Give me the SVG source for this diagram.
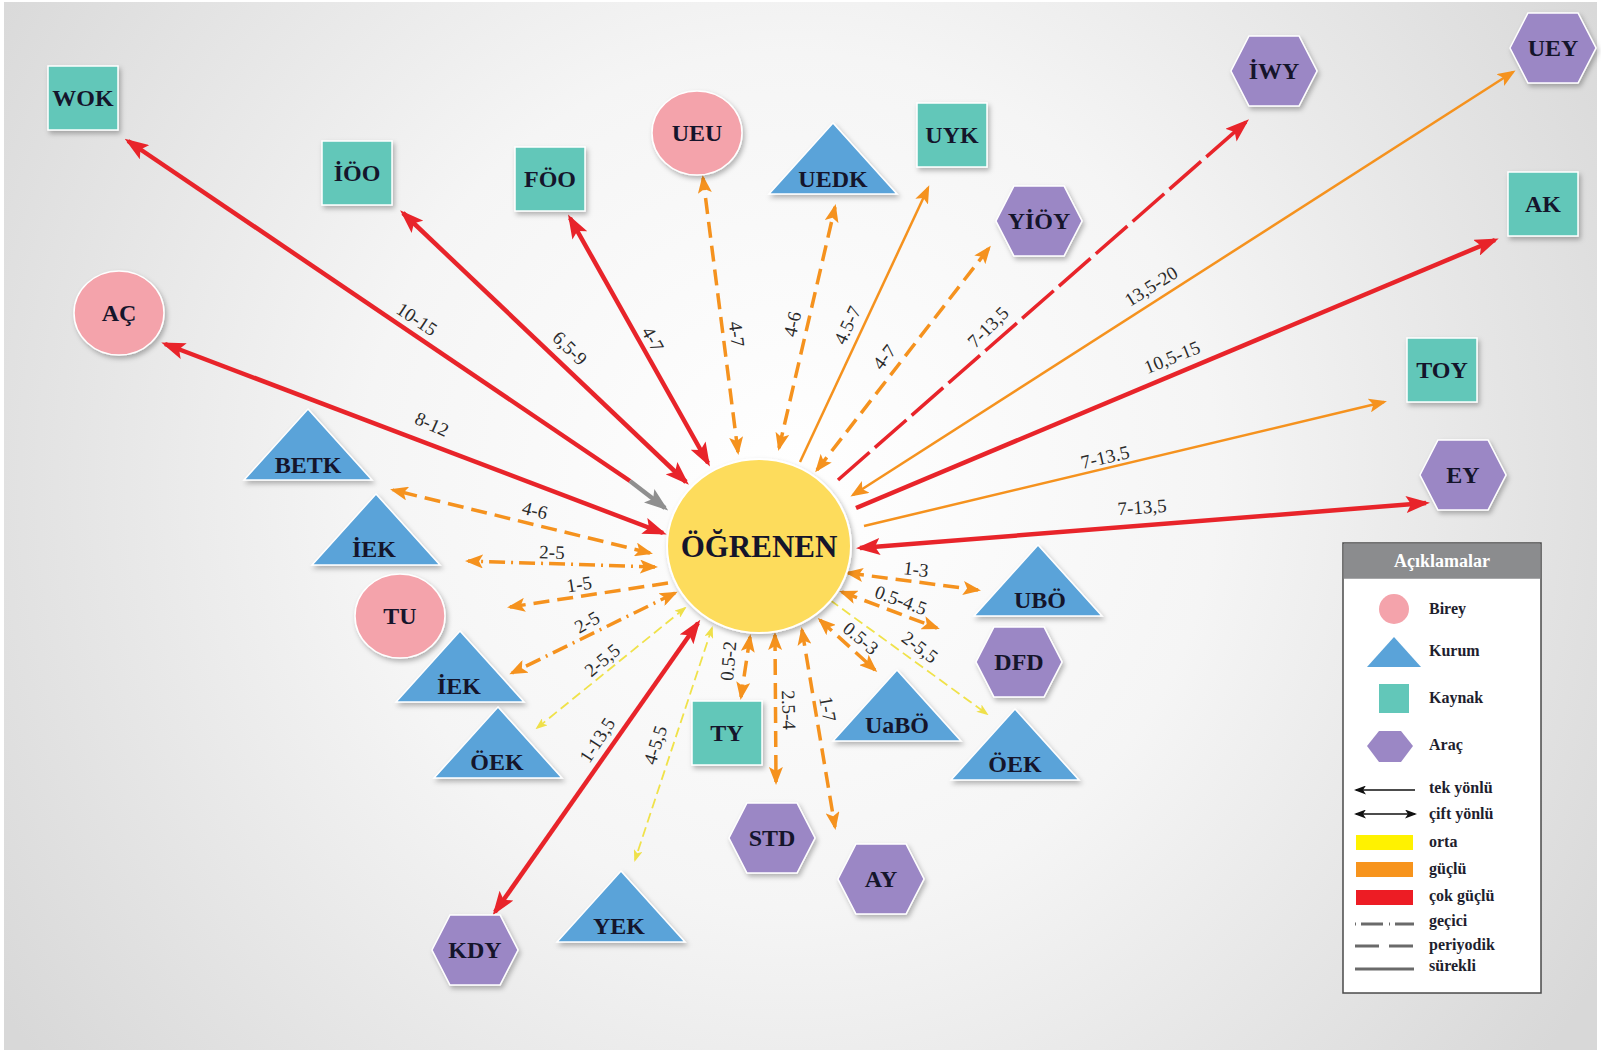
<svg xmlns="http://www.w3.org/2000/svg" width="1601" height="1057" viewBox="0 0 1601 1057">
<defs>
<radialGradient id="bg" cx="790" cy="480" r="950" gradientUnits="userSpaceOnUse">
<stop offset="0" stop-color="#ffffff"/>
<stop offset="0.45" stop-color="#f5f5f5"/>
<stop offset="1" stop-color="#d8d8d8"/>
</radialGradient>
<filter id="sh" x="-30%" y="-30%" width="160%" height="170%">
<feDropShadow dx="2" dy="3" stdDeviation="2.5" flood-color="#000" flood-opacity="0.28"/>
</filter>
<marker id="aR" viewBox="0 0 24 17" refX="20" refY="8.5" markerWidth="24" markerHeight="17" markerUnits="userSpaceOnUse" orient="auto-start-reverse"><path d="M0,0 L24,8.5 L0,17 L5,8.5 z" fill="#e8242a"/></marker>
<marker id="aG" viewBox="0 0 24 17" refX="20" refY="8.5" markerWidth="24" markerHeight="17" markerUnits="userSpaceOnUse" orient="auto-start-reverse"><path d="M0,0 L24,8.5 L0,17 L5,8.5 z" fill="#8f8f8f"/></marker>
<marker id="aO" viewBox="0 0 18 14" refX="15" refY="7" markerWidth="18" markerHeight="14" markerUnits="userSpaceOnUse" orient="auto-start-reverse"><path d="M0,0 L18,7 L0,14 L4,7 z" fill="#f5921e"/></marker>
<marker id="aY" viewBox="0 0 12 9" refX="10" refY="4.5" markerWidth="12" markerHeight="9" markerUnits="userSpaceOnUse" orient="auto-start-reverse"><path d="M0,0 L12,4.5 L0,9 L3,4.5 z" fill="#efe04a"/></marker>
<marker id="aK" viewBox="0 0 12 9" refX="10" refY="4.5" markerWidth="12" markerHeight="9" markerUnits="userSpaceOnUse" orient="auto-start-reverse"><path d="M0,0 L12,4.5 L0,9 L3,4.5 z" fill="#111"/></marker>
<polygon id="hex" points="-43,0 -25,-35 25,-35 43,0 25,35 -25,35" fill="#9b87c5" stroke="#ffffff" stroke-width="1.5"/>
<polygon id="tri" points="0,0 64,71 -64,71" fill="#5aa3d9" stroke="#ffffff" stroke-width="1.5"/>
<rect id="sq" x="-35" y="-32" width="70" height="64" fill="#62c7b9" stroke="#ffffff" stroke-width="1.5"/>
<ellipse id="ci" rx="45" ry="42" fill="#f4a3ab" stroke="#ffffff" stroke-width="1.5"/>
<style>
.nt{font-family:"Liberation Serif",serif;font-weight:bold;font-size:24px;fill:#15152b;text-anchor:middle}
.lb{font-family:"Liberation Serif",serif;font-size:19px;fill:#2a2a2a;text-anchor:middle}
.lg{font-family:"Liberation Serif",serif;font-weight:bold;font-size:16px;fill:#1e1e2e}
.r{stroke:#e8242a;stroke-width:4.5;fill:none}
.rd{stroke:#e8242a;stroke-width:3.5;fill:none;stroke-dasharray:42 7}
.o{stroke:#f5921e;stroke-width:3.5;fill:none;stroke-dasharray:16 8}
.od{stroke:#f5921e;stroke-width:3.5;fill:none;stroke-dasharray:16 6 2 6}
.os{stroke:#f5921e;stroke-width:2.5;fill:none}
.y{stroke:#f0e24a;stroke-width:1.8;fill:none;stroke-dasharray:10 5}
.g{stroke:#8f8f8f;stroke-width:4.5;fill:none}
</style>
</defs>
<rect width="1601" height="1057" fill="#ffffff"/>
<rect x="4" y="2" width="1593" height="1048" fill="url(#bg)"/>

<g id="connectors">
<line class="r" x1="630" y1="481" x2="128" y2="141" marker-end="url(#aR)"/>
<line class="g" x1="630" y1="481" x2="665" y2="508" marker-end="url(#aG)"/>
<line class="r" x1="686" y1="482" x2="403" y2="213" marker-start="url(#aR)" marker-end="url(#aR)"/>
<line class="r" x1="708" y1="463" x2="570" y2="218" marker-start="url(#aR)" marker-end="url(#aR)"/>
<line class="r" x1="663" y1="533" x2="165" y2="344" marker-start="url(#aR)" marker-end="url(#aR)"/>
<line class="r" x1="698" y1="623" x2="495" y2="912" marker-start="url(#aR)" marker-end="url(#aR)"/>
<line class="r" x1="860" y1="548" x2="1426" y2="503" marker-start="url(#aR)" marker-end="url(#aR)"/>
<line class="r" x1="856" y1="508" x2="1495" y2="240" marker-end="url(#aR)"/>
<line class="rd" x1="838" y1="480" x2="1246" y2="122" marker-end="url(#aR)"/>
<line class="os" x1="800" y1="462" x2="928" y2="188" marker-end="url(#aO)"/>
<line class="os" x1="853" y1="495" x2="1513" y2="72" marker-start="url(#aO)" marker-end="url(#aO)"/>
<line class="os" x1="864" y1="526" x2="1384" y2="402" marker-end="url(#aO)"/>
<line class="o" x1="738" y1="452" x2="703" y2="178" marker-start="url(#aO)" marker-end="url(#aO)"/>
<line class="o" x1="779" y1="448" x2="835" y2="207" marker-start="url(#aO)" marker-end="url(#aO)"/>
<line class="o" x1="817" y1="470" x2="989" y2="248" marker-start="url(#aO)" marker-end="url(#aO)"/>
<line class="o" x1="650" y1="553" x2="393" y2="490" marker-start="url(#aO)" marker-end="url(#aO)"/>
<line class="o" x1="668" y1="583" x2="510" y2="607" marker-end="url(#aO)"/>
<line class="o" x1="750" y1="637" x2="741" y2="697" marker-start="url(#aO)" marker-end="url(#aO)"/>
<line class="o" x1="775" y1="635" x2="776" y2="782" marker-start="url(#aO)" marker-end="url(#aO)"/>
<line class="o" x1="802" y1="630" x2="835" y2="827" marker-start="url(#aO)" marker-end="url(#aO)"/>
<line class="o" x1="820" y1="620" x2="875" y2="670" marker-start="url(#aO)" marker-end="url(#aO)"/>
<line class="o" x1="842" y1="592" x2="937" y2="628" marker-start="url(#aO)" marker-end="url(#aO)"/>
<line class="o" x1="848" y1="573" x2="978" y2="590" marker-start="url(#aO)" marker-end="url(#aO)"/>
<line class="od" x1="655" y1="567" x2="468" y2="561" marker-start="url(#aO)" marker-end="url(#aO)"/>
<line class="od" x1="675" y1="593" x2="512" y2="673" marker-start="url(#aO)" marker-end="url(#aO)"/>
<line class="y" x1="685" y1="608" x2="537" y2="728" marker-start="url(#aY)" marker-end="url(#aY)"/>
<line class="y" x1="712" y1="628" x2="635" y2="860" marker-start="url(#aY)" marker-end="url(#aY)"/>
<line class="y" x1="830" y1="600" x2="987" y2="714" marker-end="url(#aY)"/>
</g>

<g id="edge-labels">
<text class="lb" transform="translate(417,319) rotate(34)" dy="0.35em">10-15</text>
<text class="lb" transform="translate(570,348) rotate(44)" dy="0.35em">6,5-9</text>
<text class="lb" transform="translate(653,339) rotate(61)" dy="0.35em">4-7</text>
<text class="lb" transform="translate(737,334) rotate(83)" dy="0.35em">4-7</text>
<text class="lb" transform="translate(792,324) rotate(-77)" dy="0.35em">4-6</text>
<text class="lb" transform="translate(847,325) rotate(-65)" dy="0.35em">4.5-7</text>
<text class="lb" transform="translate(884,357) rotate(-52)" dy="0.35em">4-7</text>
<text class="lb" transform="translate(988,327) rotate(-45)" dy="0.35em">7-13,5</text>
<text class="lb" transform="translate(1151,286) rotate(-32)" dy="0.35em">13,5-20</text>
<text class="lb" transform="translate(1172,357) rotate(-22)" dy="0.35em">10,5-15</text>
<text class="lb" transform="translate(1105,457) rotate(-13)" dy="0.35em">7-13.5</text>
<text class="lb" transform="translate(1142,507) rotate(-4)" dy="0.35em">7-13,5</text>
<text class="lb" transform="translate(432,424) rotate(24)" dy="0.35em">8-12</text>
<text class="lb" transform="translate(535,510) rotate(14)" dy="0.35em">4-6</text>
<text class="lb" transform="translate(552,552) rotate(2)" dy="0.35em">2-5</text>
<text class="lb" transform="translate(579,584) rotate(-9)" dy="0.35em">1-5</text>
<text class="lb" transform="translate(587,622) rotate(-30)" dy="0.35em">2-5</text>
<text class="lb" transform="translate(602,660) rotate(-40)" dy="0.35em">2-5,5</text>
<text class="lb" transform="translate(597,740) rotate(-57)" dy="0.35em">1-13,5</text>
<text class="lb" transform="translate(655,745) rotate(-72)" dy="0.35em">4-5,5</text>
<text class="lb" transform="translate(728,661) rotate(-85)" dy="0.35em">0.5-2</text>
<text class="lb" transform="translate(789,710) rotate(88)" dy="0.35em">2.5-4</text>
<text class="lb" transform="translate(828,709) rotate(80)" dy="0.35em">1-7</text>
<text class="lb" transform="translate(861,638) rotate(40)" dy="0.35em">0.5-3</text>
<text class="lb" transform="translate(920,647) rotate(37)" dy="0.35em">2-5,5</text>
<text class="lb" transform="translate(901,600) rotate(20)" dy="0.35em">0.5-4.5</text>
<text class="lb" transform="translate(916,569) rotate(7)" dy="0.35em">1-3</text>
</g>

<g id="n-ogrenen"><ellipse cx="759" cy="546" rx="92" ry="87" fill="#fddc5c" stroke="#ffffff" stroke-width="2" filter="url(#sh)"/><text class="nt" x="759" y="557" style="font-size:31px">ÖĞRENEN</text></g>

<g id="n-wok"><use href="#sq" x="83" y="98" filter="url(#sh)"/><text class="nt" x="83" y="106">WOK</text></g>
<g id="n-ioo"><use href="#sq" x="357" y="173" filter="url(#sh)"/><text class="nt" x="357" y="181">İÖO</text></g>
<g id="n-foo"><use href="#sq" x="550" y="179" filter="url(#sh)"/><text class="nt" x="550" y="187">FÖO</text></g>
<g id="n-uyk"><use href="#sq" x="952" y="135" filter="url(#sh)"/><text class="nt" x="952" y="143">UYK</text></g>
<g id="n-ak"><use href="#sq" x="1543" y="204" filter="url(#sh)"/><text class="nt" x="1543" y="212">AK</text></g>
<g id="n-toy"><use href="#sq" x="1442" y="370" filter="url(#sh)"/><text class="nt" x="1442" y="378">TOY</text></g>
<g id="n-ty"><use href="#sq" x="727" y="733" filter="url(#sh)"/><text class="nt" x="727" y="741">TY</text></g>

<g id="n-ueu"><use href="#ci" x="697" y="133" filter="url(#sh)"/><text class="nt" x="697" y="141">UEU</text></g>
<g id="n-ac"><use href="#ci" x="119" y="313" filter="url(#sh)"/><text class="nt" x="119" y="321">AÇ</text></g>
<g id="n-tu"><use href="#ci" x="400" y="616" filter="url(#sh)"/><text class="nt" x="400" y="624">TU</text></g>

<g id="n-uedk"><use href="#tri" x="833" y="123" filter="url(#sh)"/><text class="nt" x="833" y="187">UEDK</text></g>
<g id="n-betk"><use href="#tri" x="308" y="409" filter="url(#sh)"/><text class="nt" x="308" y="473">BETK</text></g>
<g id="n-iek1"><use href="#tri" x="376" y="494" filter="url(#sh)"/><text class="nt" x="374" y="557">İEK</text></g>
<g id="n-iek2"><use href="#tri" x="460" y="631" filter="url(#sh)"/><text class="nt" x="459" y="694">İEK</text></g>
<g id="n-oek1"><use href="#tri" x="498" y="707" filter="url(#sh)"/><text class="nt" x="497" y="770">ÖEK</text></g>
<g id="n-yek"><use href="#tri" x="621" y="871" filter="url(#sh)"/><text class="nt" x="619" y="934">YEK</text></g>
<g id="n-uabo"><use href="#tri" x="897" y="670" filter="url(#sh)"/><text class="nt" x="897" y="733">UaBÖ</text></g>
<g id="n-oek2"><use href="#tri" x="1015" y="709" filter="url(#sh)"/><text class="nt" x="1015" y="772">ÖEK</text></g>
<g id="n-ubo"><use href="#tri" x="1038" y="545" filter="url(#sh)"/><text class="nt" x="1040" y="608">UBÖ</text></g>

<g id="n-yioy"><use href="#hex" x="1039" y="221" filter="url(#sh)"/><text class="nt" x="1039" y="229">YİÖY</text></g>
<g id="n-iwy"><use href="#hex" x="1274" y="71" filter="url(#sh)"/><text class="nt" x="1274" y="79">İWY</text></g>
<g id="n-uey"><use href="#hex" x="1553" y="48" filter="url(#sh)"/><text class="nt" x="1553" y="56">UEY</text></g>
<g id="n-ey"><use href="#hex" x="1463" y="475" filter="url(#sh)"/><text class="nt" x="1463" y="483">EY</text></g>
<g id="n-dfd"><use href="#hex" x="1019" y="662" filter="url(#sh)"/><text class="nt" x="1019" y="670">DFD</text></g>
<g id="n-std"><use href="#hex" x="772" y="838" filter="url(#sh)"/><text class="nt" x="772" y="846">STD</text></g>
<g id="n-ay"><use href="#hex" x="881" y="879" filter="url(#sh)"/><text class="nt" x="881" y="887">AY</text></g>
<g id="n-kdy"><use href="#hex" x="475" y="950" filter="url(#sh)"/><text class="nt" x="475" y="958">KDY</text></g>

<g id="legend">
<rect x="1343" y="543" width="198" height="450" fill="#ffffff" stroke="#4a4a4a" stroke-width="1.5"/>
<rect x="1343.75" y="543.75" width="196.5" height="35" fill="#8b8c8e"/>
<text x="1442" y="567" style="font-family:'Liberation Serif',serif;font-size:18px;font-weight:bold;fill:#ffffff;text-anchor:middle">Açıklamalar</text>
<ellipse cx="1394" cy="609" rx="15" ry="15" fill="#f4a3ab"/>
<text class="lg" x="1429" y="614">Birey</text>
<polygon points="1394,637 1421,667 1367,667" fill="#5aa3d9"/>
<text class="lg" x="1429" y="656">Kurum</text>
<rect x="1379" y="684" width="30" height="29" fill="#62c7b9"/>
<text class="lg" x="1429" y="703">Kaynak</text>
<polygon points="1367,746 1379,731 1401,731 1413,746 1401,762 1379,762" fill="#9b87c5"/>
<text class="lg" x="1429" y="750">Araç</text>
<line x1="1415" y1="790" x2="1356" y2="790" stroke="#111" stroke-width="1.5" marker-end="url(#aK)"/>
<text class="lg" x="1429" y="793">tek yönlü</text>
<line x1="1356" y1="814" x2="1415" y2="814" stroke="#111" stroke-width="1.5" marker-start="url(#aK)" marker-end="url(#aK)"/>
<text class="lg" x="1429" y="819">çift yönlü</text>
<rect x="1356" y="835" width="57" height="15" fill="#fff200"/>
<text class="lg" x="1429" y="847">orta</text>
<rect x="1356" y="862" width="57" height="15" fill="#f7941d"/>
<text class="lg" x="1429" y="874">güçlü</text>
<rect x="1356" y="890" width="57" height="15" fill="#ed1c24"/>
<text class="lg" x="1429" y="901">çok güçlü</text>
<line x1="1355" y1="924" x2="1414" y2="924" stroke="#6a6a6a" stroke-width="3" stroke-dasharray="1 5 22 6 1 5 18 0"/>
<text class="lg" x="1429" y="926">geçici</text>
<line x1="1355" y1="946" x2="1414" y2="946" stroke="#6a6a6a" stroke-width="3" stroke-dasharray="24 10"/>
<text class="lg" x="1429" y="950">periyodik</text>
<line x1="1355" y1="969" x2="1414" y2="969" stroke="#6a6a6a" stroke-width="3"/>
<text class="lg" x="1429" y="971">sürekli</text>
</g>
</svg>
